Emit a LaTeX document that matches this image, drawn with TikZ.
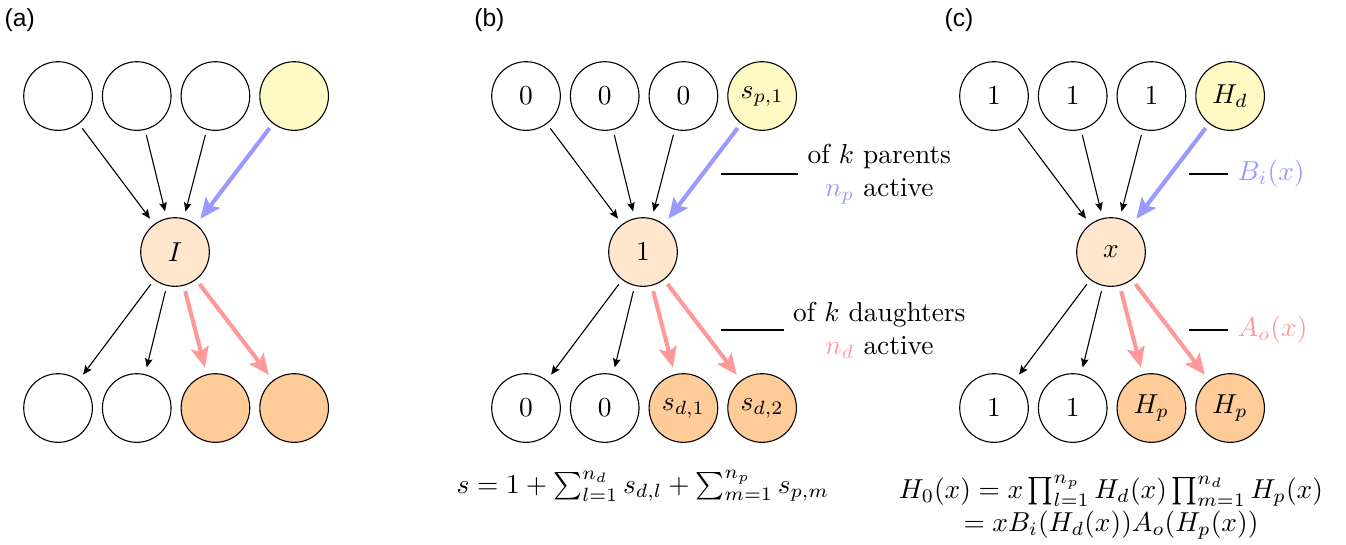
\documentclass[tikz,border=0pt]{standalone}
\usepackage{fontspec}
\usepackage{amsmath}
\usetikzlibrary{positioning, arrows.meta}
\newfontfamily\panelfont{Liberation Sans}
\definecolor{parentAct}{HTML}{FFF9C4}
\definecolor{focal}{HTML}{FFE6CC}
\definecolor{daughterAct}{HTML}{FFCC99}
\definecolor{inArr}{HTML}{9999FF}
\definecolor{outArr}{HTML}{FF9999}

\begin{document}
\begin{tikzpicture}[nd/.style={circle, draw, minimum size=0.88cm, inner sep=0pt},arr/.style={-{Stealth[length=3.3pt, width=2.8pt, inset=0.6pt]}, shorten >=2.5pt, shorten <=2pt},inarr/.style={-{Stealth[length=7.5pt, width=6.5pt, inset=1.5pt]}, line width=1.5pt, color=inArr, shorten >=2.5pt, shorten <=2pt},outarr/.style={inarr, color=outArr},tag/.style={font=\panelfont\fontsize{9}{10}\selectfont},note/.style={align=center}]
\useasboundingbox (-0.744,1.231) rectangle (16.513,-5.744);
% (a) plain tree
\node[tag] (ta) at (-0.49,0.97) {(a)};
\node[nd] (a1) at (0,0) {};
\node[nd, right=0.115cm of a1] (a2) {};
\node[nd, right=0.115cm of a2] (a3) {};
\node[nd, fill=parentAct, right=0.115cm of a3] (a4) {};
\node[nd, fill=focal] (am) at (1.5,-2) {$I$};
\node[nd] (ad1) at (0,-4) {};
\node[nd, right=0.115cm of ad1] (ad2) {};
\node[nd, fill=daughterAct, right=0.115cm of ad2] (ad3) {};
\node[nd, fill=daughterAct, right=0.115cm of ad3] (ad4) {};
\draw[arr] (a1)--(am); \draw[arr] (a2)--(am); \draw[arr] (a3)--(am); \draw[inarr] (a4)--(am);
\draw[arr] (am)--(ad1); \draw[arr] (am)--(ad2); \draw[outarr] (am)--(ad3); \draw[outarr] (am)--(ad4);
% (b) sizes
\node[tag] (tb) at (5.53,0.97) {(b)};
\node[nd] (b1) at (6,0) {$0$};
\node[nd, right=0.115cm of b1] (b2) {$0$};
\node[nd, right=0.115cm of b2] (b3) {$0$};
\node[nd, fill=parentAct, right=0.115cm of b3] (b4) {$s_{p,1}$};
\node[nd, fill=focal] (bm) at (7.5,-2) {$1$};
\node[nd] (bd1) at (6,-4) {$0$};
\node[nd, right=0.115cm of bd1] (bd2) {$0$};
\node[nd, fill=daughterAct, right=0.115cm of bd2] (bd3) {$s_{d,1}$};
\node[nd, fill=daughterAct, right=0.115cm of bd3] (bd4) {$s_{d,2}$};
\draw[arr] (b1)--(bm); \draw[arr] (b2)--(bm); \draw[arr] (b3)--(bm); \draw[inarr] (b4)--(bm);
\draw[arr] (bm)--(bd1); \draw[arr] (bm)--(bd2); \draw[outarr] (bm)--(bd3); \draw[outarr] (bm)--(bd4);
\node[note] (bpn) at (10.53,-1) {of $k$ parents\\\textcolor{inArr}{$n_p$} active};
\node[note] (bdn) at (10.53,-3) {of $k$ daughters\\\textcolor{outArr}{$n_d$} active};
\coordinate (bpl) at (8.5,-1); \coordinate (bdl) at (8.5,-3);
\draw (bpl)--(bpn.west); \draw (bdl)--(bdn.west);
\node (bsum) at (7.5,-5.0) {$s = 1 + \sum_{l=1}^{n_d} s_{d,l} + \sum_{m=1}^{n_p} s_{p,m}$};
% (c) generating functions
\node[tag] (tc) at (11.55,0.97) {(c)};
\node[nd] (c1) at (12,0) {$1$};
\node[nd, right=0.115cm of c1] (c2) {$1$};
\node[nd, right=0.115cm of c2] (c3) {$1$};
\node[nd, fill=parentAct, right=0.115cm of c3] (c4) {$H_d$};
\node[nd, fill=focal] (cm) at (13.5,-2) {$x$};
\node[nd] (cd1) at (12,-4) {$1$};
\node[nd, right=0.115cm of cd1] (cd2) {$1$};
\node[nd, fill=daughterAct, right=0.115cm of cd2] (cd3) {$H_p$};
\node[nd, fill=daughterAct, right=0.115cm of cd3] (cd4) {$H_p$};
\draw[arr] (c1)--(cm); \draw[arr] (c2)--(cm); \draw[arr] (c3)--(cm); \draw[inarr] (c4)--(cm);
\draw[arr] (cm)--(cd1); \draw[arr] (cm)--(cd2); \draw[outarr] (cm)--(cd3); \draw[outarr] (cm)--(cd4);
\node[anchor=west, text=inArr] (cpn) at (15.0,-1) {$B_i(x)$};
\node[anchor=west, text=outArr] (cdn) at (15.0,-3) {$A_o(x)$};
\coordinate (cpl) at (14.5,-1); \coordinate (cdl) at (14.5,-3);
\draw (cpl)--(cpn.west); \draw (cdl)--(cdn.west);
\node[note] (csum) at (13.5,-5.27) {$H_0(x) = x\prod_{l=1}^{n_p} H_d(x) \prod_{m=1}^{n_d} H_p(x)$\\$= xB_i(H_d(x))A_o(H_p(x))$};
\end{tikzpicture}
\end{document}
